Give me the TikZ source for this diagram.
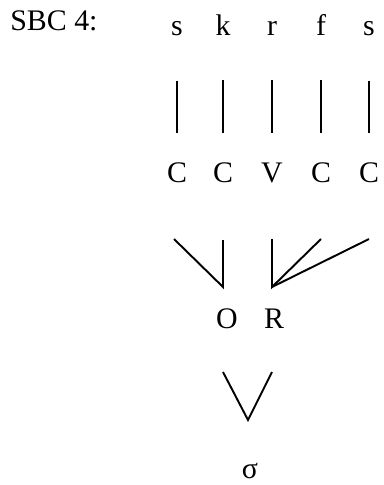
\documentclass[tikz,border=0pt]{standalone}
\usepackage{fontspec}
\setmainfont{Liberation Serif}
\usetikzlibrary{positioning}
\tikzstyle{seg} = [inner sep=0pt, anchor=base, font=\fontsize{17}{20}\selectfont]
\tikzstyle{branch} = [line width=1.1pt]

\begin{document}
\begin{tikzpicture}[x=0.02cm, y=-0.02cm]
    \useasboundingbox (0,0) rectangle (384,485);
    \node (title) [seg, anchor=base west] at (10,30) {SBC 4:};

    % segments and skeleton
    \foreach \name/\x/\seg/\cv in {1/177/s/C, 2/223/k/C, 3/272/r/V, 4/321/f/C, 5/369/s/C} {
        \node (s\name) [seg] at (\x,35) {\seg};
        \node (c\name) [seg] at (\x,182) {\cv};
        \draw [branch, shorten <=0.9cm, shorten >=0.58cm] (s\name) -- (c\name);
    }

    \node (onset) [seg] at (227,328) {O};
    \node (rime) [seg] at (274,328) {R};
    \node (syll) [seg] at (250,478) {σ};

    % branch points
    \coordinate (oj) at (223,287);
    \coordinate (rj) at (272,287);
    \coordinate (sj) at (248,420);
    \coordinate (t1) at (174,239);
    \coordinate (t2) at (223,240);
    \coordinate (t3) at (272,239);
    \coordinate (t4) at (321,239);
    \coordinate (t5) at (369,239);
    \coordinate (u1) at (223,372);
    \coordinate (u2) at (272,372);

    \draw [branch] (t1) -- (oj) -- (t2);
    \draw [branch] (t3) -- (rj) -- (t4);
    \draw [branch] (rj) -- (t5);
    \draw [branch] (u1) -- (sj) -- (u2);
\end{tikzpicture}
\end{document}
